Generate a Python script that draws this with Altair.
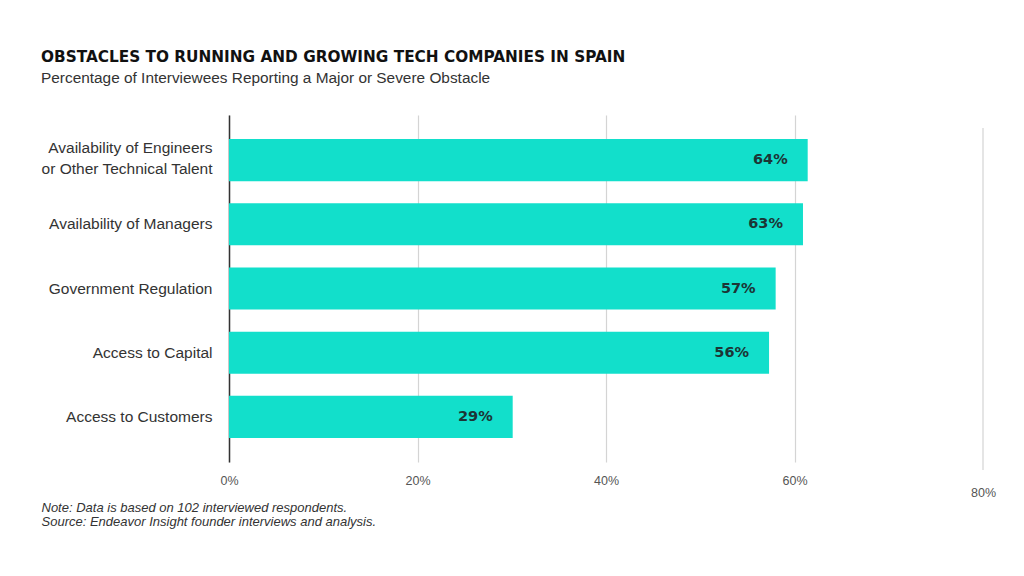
import altair as alt
import pandas as pd

categories = [
    "Availability of Engineers|or Other Technical Talent",
    "Availability of Managers",
    "Government Regulation",
    "Access to Capital",
    "Access to Customers",
]
bar_lengths = [61.4, 60.9, 58.0, 57.3, 30.1]  # bar ends as drawn in the picture
reported = [64, 63, 57, 56, 29]               # values printed on the bars
x_ticks = [0, 20, 40, 60, 80]

df = pd.DataFrame({
    "cat": categories,
    "len": bar_lengths,
    "lab": [f"{v}%" for v in reported],
})
last_tick = pd.DataFrame({"v": [x_ticks[-1]]})

BAR = "#12DFCB"
BODY = "Liberation Sans"
GRID = "#d4d4d4"

y_enc = alt.Y(
    "cat:N",
    sort=categories,
    title=None,
    scale=alt.Scale(paddingInner=0.345, paddingOuter=0.375),
    axis=alt.Axis(
        labelExpr="split(datum.value, '|')",
        labelFont=BODY,
        labelFontSize=15.5,
        labelColor="#333333",
        labelPadding=17,
        labelLineHeight=21,
        labelOffset={"condition": {"test": "indexof(datum.value, '|') >= 0", "value": -12.5}, "value": 0},
        ticks=False,
        domain=True,
        domainColor="#333333",
        domainWidth=1.5,
        grid=False,
    ),
)

x_scale = alt.Scale(domain=[0, 80], nice=False)

bars = alt.Chart(df).mark_bar(color=BAR).encode(
    x=alt.X(
        "len:Q",
        scale=x_scale,
        axis=alt.Axis(
            values=x_ticks,
            labelExpr="datum.value + '%'",
            labelFont=BODY,
            labelFontSize=12.5,
            labelColor="#555555",
            labelFlush=False,
            labelPadding={"condition": {"test": "datum.value == 80", "value": 24}, "value": 12},
            ticks=False,
            domain=False,
            grid=True,
            gridColor=GRID,
            gridWidth=1.2,
            gridOpacity={"condition": {"test": "datum.value == 80", "value": 0}, "value": 1},
            title=[
                "Note: Data is based on 102 interviewed respondents.",
                "Source: Endeavor Insight founder interviews and analysis.",
            ],
            titleFont=BODY,
            titleFontStyle="italic",
            titleFontWeight="normal",
            titleFontSize=13,
            titleColor="#333333",
            titleAlign="left",
            titleAnchor="start",
            titleBaseline="alphabetic",
            titleX=-188,
            titleY=49,
            titleLineHeight=14.5,
        ),
    ),
    y=y_enc,
)

# the 80% gridline sits slightly lower than the others in the original
last_grid = alt.Chart(last_tick).mark_rule(color=GRID, strokeWidth=1.2).encode(
    x=alt.X("v:Q", scale=x_scale),
    y=alt.value(13),
    y2=alt.value(355),
)

labels = alt.Chart(df).mark_text(
    align="right", baseline="middle", dx=-20,
    font="DejaVu Sans", fontWeight="bold", fontSize=14.5, color="#1c3535",
).encode(
    x=alt.X("len:Q", scale=x_scale),
    y=alt.Y("cat:N", sort=categories),
    text="lab:N",
)

chart = (last_grid + bars + labels).properties(
    width=754,
    height=347,
    autosize=alt.AutoSizeParams(type="none"),
    padding={"left": 221, "top": 107, "right": 30, "bottom": 90},
    view=alt.ViewBackground(stroke="transparent", strokeWidth=0),
    title=alt.TitleParams(
        text="OBSTACLES TO RUNNING AND GROWING TECH COMPANIES IN SPAIN",
        subtitle="Percentage of Interviewees Reporting a Major or Severe Obstacle",
        anchor="start",
        frame="group",
        dx=-188,
        offset=29,
        font="DejaVu Sans",
        fontSize=15.3,
        fontWeight="bold",
        color="#111111",
        subtitleFont=BODY,
        subtitleFontSize=15.4,
        subtitleColor="#333333",
        subtitlePadding=5,
    ),
).configure_view(strokeWidth=0, stroke="transparent").configure(background="white")

chart.save("out.html", embed_options={"renderer": "svg", "actions": False})
